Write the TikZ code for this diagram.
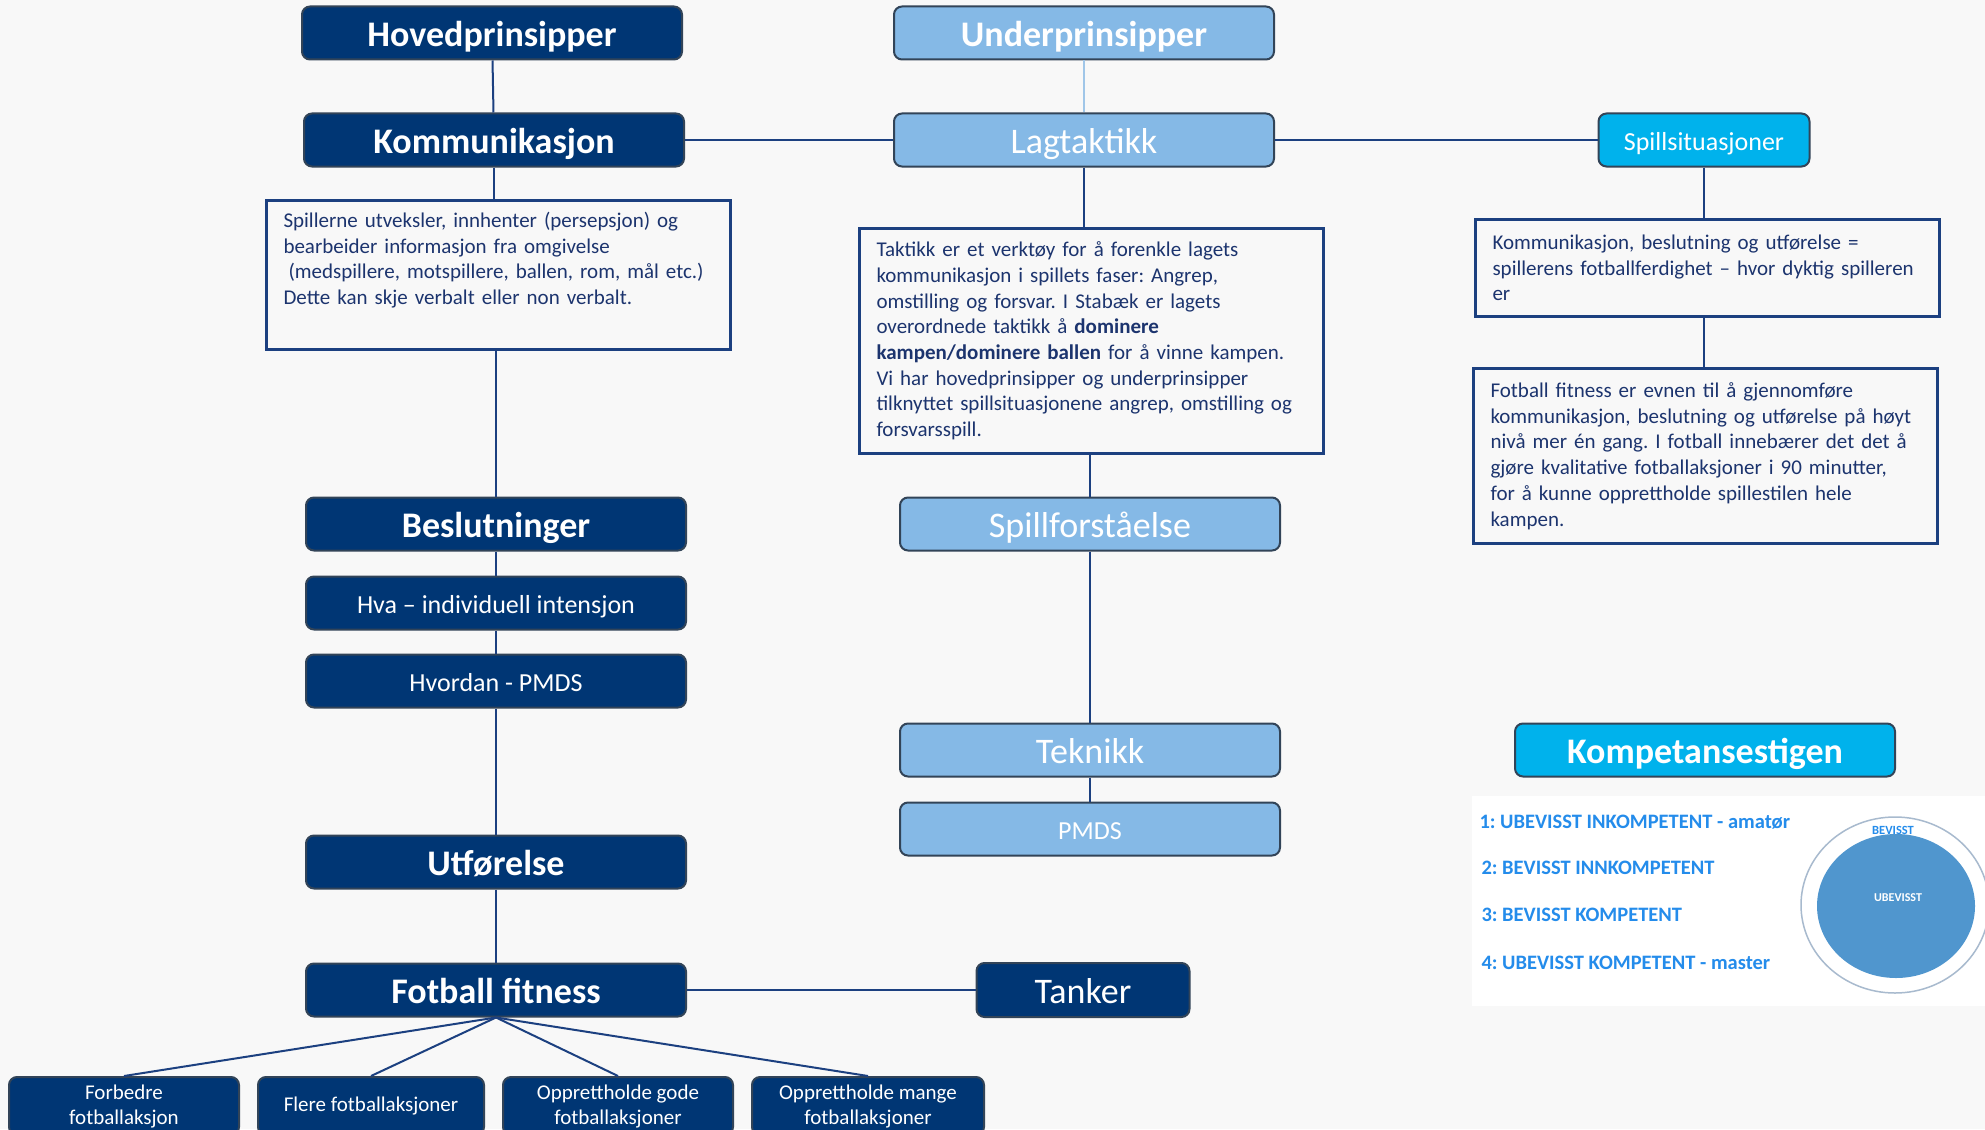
\documentclass[tikz,border=0pt]{standalone}
\usepackage{fontspec}
\setmainfont{Carlito}
\usepackage{tikz}
\usepackage{xcolor}
\frenchspacing
\definecolor{marine}{RGB}{0,54,116}
\definecolor{lysblaa}{RGB}{133,185,230}
\definecolor{turkis}{RGB}{0,178,236}
\definecolor{kant}{RGB}{50,68,88}
\definecolor{boksblaa}{RGB}{28,64,128}
\definecolor{tekstblaa}{RGB}{28,52,110}
\definecolor{bakgrunn}{RGB}{248,248,248}
\definecolor{listeblaa}{RGB}{36,140,235}
\definecolor{sirkelblaa}{RGB}{80,150,206}
\definecolor{sirkelkant}{RGB}{168,186,206}
\definecolor{lyslinje}{RGB}{160,198,232}
\tikzset{
    boks/.style={rounded corners=8pt, draw=kant, line width=2pt, text=white, minimum width=380pt, minimum height=53pt, inner sep=0pt},
    hovedboks/.style={boks, fill=marine},
    underboks/.style={boks, fill=lysblaa},
    turkisboks/.style={boks, fill=turkis},
    stor/.style={font=\fontsize{36}{40}\selectfont\bfseries, text height=33pt, text depth=6pt},
    middels/.style={font=\fontsize{36}{40}\selectfont, text height=33pt, text depth=6pt},
    liten/.style={font=\fontsize{26}{30}\selectfont, text height=24pt, text depth=3pt},
    smaa/.style={font=\fontsize{21}{25}\selectfont, align=center},
    tekstboks/.style={draw=boksblaa, line width=3pt, fill=bakgrunn, text=tekstblaa, anchor=north west, align=left, text width=430pt, inner xsep=17pt, inner ysep=0pt, font=\fontsize{21}{25.7}\selectfont},
    linje/.style={draw=boksblaa, line width=2pt},
    lys linje/.style={draw=lyslinje, line width=1.5pt},
    liste/.style={anchor=west, text=listeblaa, font=\fontsize{20.5}{24}\selectfont\bfseries},
}
\begin{document}
\begin{tikzpicture}[x=1pt, y=-1pt]
\useasboundingbox (0,0) rectangle (1985,1129);
\fill[bakgrunn] (0,0) rectangle (1985,1129);
\fill[white] (1472,796) rectangle (1985,1006);

\node[hovedboks, stor] (hov) at (492,33) {Hovedprinsipper};
\node[hovedboks, stor] (komm) at (494,140) {Kommunikasjon};
\node[tekstboks, minimum height=149pt] (info) at (265,199) {Spillerne utveksler, innhenter (persepsjon) og\\
bearbeider informasjon fra omgivelse\\
\hspace*{5pt}(medspillere, motspillere, ballen, rom, mål etc.)\\
Dette kan skje verbalt eller non verbalt.\\
\strut};
\node[hovedboks, stor] (beslut) at (496,524) {Beslutninger};
\node[hovedboks, liten] (hva) at (496,603) {Hva – individuell intensjon};
\node[hovedboks, liten] (hvordan) at (496,681) {Hvordan - PMDS};
\node[hovedboks, stor] (utf) at (496,862) {Utførelse};
\node[hovedboks, stor] (fitness) at (496,990) {Fotball fitness};
\node[hovedboks, middels, minimum width=213pt, minimum height=54pt] (tanker) at (1083,990) {Tanker};
\node[hovedboks, smaa, minimum width=230pt, minimum height=58pt] (forbedre) at (124,1106) {Forbedre\\fotballaksjon};
\node[hovedboks, smaa, minimum width=226pt, minimum height=58pt] (flere) at (371,1106) {Flere fotballaksjoner};
\node[hovedboks, smaa, minimum width=230pt, minimum height=58pt] (gode) at (618,1106) {Opprettholde gode\\fotballaksjoner};
\node[hovedboks, smaa, minimum width=232pt, minimum height=58pt] (mange) at (868,1106) {Opprettholde mange\\fotballaksjoner};

\node[underboks, stor] (underpr) at (1084,33) {Underprinsipper};
\node[underboks, middels] (lagt) at (1084,140) {Lagtaktikk};
\node[tekstboks, minimum height=225pt] (taktikk) at (858,227) {Taktikk er et verktøy for å forenkle lagets\\
kommunikasjon i spillets faser: Angrep,\\
omstilling og forsvar. I Stabæk er lagets\\
overordnede taktikk å \textbf{dominere}\\
\textbf{kampen/dominere ballen} for å vinne kampen.\\
Vi har hovedprinsipper og underprinsipper\\
tilknyttet spillsituasjonene angrep, omstilling og\\
forsvarsspill.};
\node[underboks, middels] (spillf) at (1090,524) {Spillforståelse};
\node[underboks, middels] (teknikk) at (1090,750) {Teknikk};
\node[underboks, liten] (pmds) at (1090,829) {PMDS};

\node[turkisboks, liten, minimum width=211pt] (spillsit) at (1704,140) {Spillsituasjoner};
\node[tekstboks, minimum height=97pt] (ferdighet) at (1474,218) {Kommunikasjon, beslutning og utførelse =\\
spillerens fotballferdighet – hvor dyktig spilleren\\
er};
\node[tekstboks, minimum height=175pt] (fitnesstekst) at (1472,367) {Fotball fitness er evnen til å gjennomføre\\
kommunikasjon, beslutning og utførelse på høyt\\
nivå mer én gang. I fotball innebærer det det å\\
gjøre kvalitative fotballaksjoner i 90 minutter,\\
for å kunne opprettholde spillestilen hele\\
kampen.};
\node[turkisboks, stor] (komp) at (1705,750) {Kompetansestigen};

\foreach \i/\x/\y/\tekst in {1/1476/822/{1: UBEVISST INKOMPETENT - amatør}, 2/1478/868/{2: BEVISST INNKOMPETENT}, 3/1478/915/{3: BEVISST KOMPETENT}, 4/1478/963/{4: UBEVISST KOMPETENT - master}}
    \node[liste] (trinn\i) at (\x,\y) {\tekst};
\draw[fill=white, draw=sirkelkant, line width=1.5pt] (1895,905) ellipse [x radius=94pt, y radius=88pt];
\fill[sirkelblaa] (1896,906) ellipse [x radius=79pt, y radius=72pt];
\node[text=listeblaa, font=\fontsize{12.5}{14}\selectfont\bfseries] (bevisst) at (1893,830) {BEVISST};
\node[text=white, font=\fontsize{12}{14}\selectfont\bfseries] (ubevisst) at (1898,898) {UBEVISST};

\draw[linje] (hov) -- (komm);
\draw[linje] (komm) -- (lagt);
\draw[linje] (lagt) -- (spillsit);
\draw[lys linje] (underpr) -- (lagt);
\draw[linje] (komm.south) -- (komm.south |- info.north);
\draw[linje] (beslut.north |- info.south) -- (beslut.north);
\draw[linje] (beslut) -- (hva);
\draw[linje] (hva) -- (hvordan);
\draw[linje] (hvordan) -- (utf);
\draw[linje] (utf) -- (fitness);
\draw[linje] (fitness) -- (tanker);
\foreach \b in {forbedre, flere, gode, mange}
    \draw[linje] (fitness.south) -- (\b.north);
\draw[linje] (lagt.south) -- (lagt.south |- taktikk.north);
\draw[linje] (spillf.north |- taktikk.south) -- (spillf.north);
\draw[linje] (spillf) -- (teknikk);
\draw[linje] (teknikk) -- (pmds);
\draw[linje] (spillsit.south) -- (spillsit.south |- ferdighet.north);
\draw[linje] (spillsit.south |- ferdighet.south) -- (spillsit.south |- fitnesstekst.north);
\end{tikzpicture}
\end{document}
